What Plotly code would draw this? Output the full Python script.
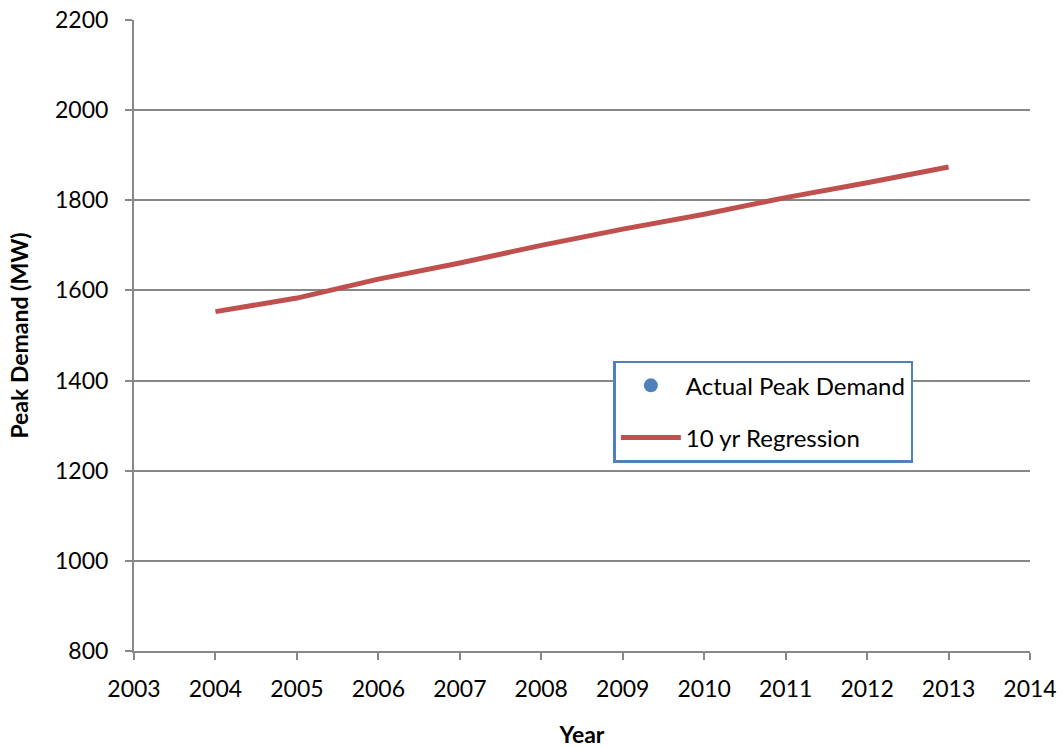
import plotly.graph_objects as go

# Peak demand data (MW)
years = [2004, 2005, 2006, 2007, 2008, 2009, 2010, 2011, 2012, 2013]
regression_mw = [1553, 1583, 1625, 1661, 1700, 1736, 1769, 1806, 1839, 1874]
# no actual readings plotted; the series still keeps its legend entry
actual_years = [None]
actual_mw = [None]

x_ticks = list(range(2003, 2015))
y_ticks = list(range(800, 2201, 200))

FONT = "Lato, 'Open Sans', sans-serif"
GRID = "#878787"

fig = go.Figure()
fig.add_trace(go.Scatter(
    x=actual_years, y=actual_mw, mode="markers",
    name="Actual Peak Demand", legendgroup="actual",
    marker=dict(color="#4F81BD", size=14),
))
fig.add_trace(go.Scatter(
    x=years, y=regression_mw, mode="lines",
    name="10 yr Regression", legendgroup="regression",
    line=dict(color="#C0504D", width=5),
))

fig.update_layout(
    width=1063, height=748,
    margin=dict(l=134, r=33, t=20, b=97, autoexpand=False),
    paper_bgcolor="white", plot_bgcolor="white",
    font=dict(family=FONT, size=23, color="black"),
    showlegend=True,
    legend=dict(
        x=0.535, y=0.46, xanchor="left", yanchor="top",
        bgcolor="white", bordercolor="#4F81BD", borderwidth=2.5,
        font=dict(family=FONT, size=24, color="black"),
        traceorder="grouped", tracegroupgap=18, itemwidth=60,
        entrywidth=305,
    ),
    xaxis=dict(
        range=[2003, 2014], tickmode="array", tickvals=x_ticks,
        showgrid=False, zeroline=False,
        showline=True, linecolor=GRID, linewidth=2,
        ticks="outside", ticklen=7, tickcolor=GRID, tickwidth=2,
        ticklabelstandoff=9,
        tickfont=dict(family=FONT, size=23),
        title=dict(text="<b>Year</b>", font=dict(family=FONT, size=23), standoff=28),
    ),
    yaxis=dict(
        range=[800, 2200], tickmode="array", tickvals=y_ticks,
        showgrid=True, gridcolor=GRID, gridwidth=2,
        zeroline=False,
        showline=True, linecolor=GRID, linewidth=2,
        ticks="outside", ticklen=7, tickcolor=GRID, tickwidth=2,
        ticklabelstandoff=12,
        tickfont=dict(family=FONT, size=23),
        title=dict(text="<b>Peak Demand (MW)</b>", font=dict(family=FONT, size=23), standoff=20),
    ),
)

fig.write_html("out.html")
